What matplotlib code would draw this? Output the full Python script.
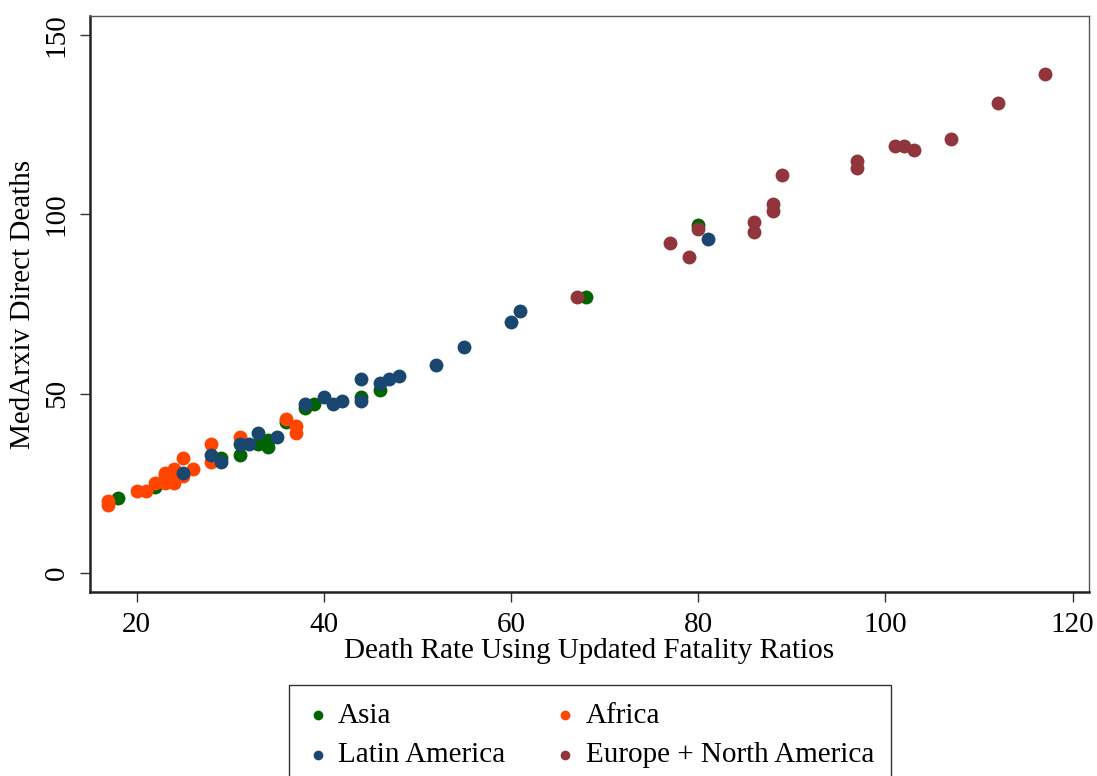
import matplotlib
matplotlib.use("Agg")
import matplotlib.pyplot as plt

plt.rcParams['font.family'] = ['Liberation Serif', 'DejaVu Serif']

# Data (x = Death Rate Using Updated Fatality Ratios, y = MedArxiv Direct Deaths)
asia_x = [18, 22, 29, 31, 33, 34, 34, 36, 38, 39, 44, 46, 68, 80]
asia_y = [21, 24, 32, 33, 36, 35, 37, 42, 46, 47, 49, 51, 77, 97]

africa_x = [17, 17, 20, 21, 22, 23, 23, 23, 24, 24, 24, 24, 25, 25, 26, 28, 28, 31, 36, 37, 37]
africa_y = [20, 19, 23, 23, 25, 25, 27, 28, 25, 26, 28, 29, 27, 32, 29, 36, 31, 38, 43, 41, 39]

latam_x = [25, 28, 29, 31, 32, 33, 35, 38, 40, 41, 42, 44, 44, 46, 47, 48, 52, 55, 60, 61, 81]
latam_y = [28, 33, 31, 36, 36, 39, 38, 47, 49, 47, 48, 54, 48, 53, 54, 55, 58, 63, 70, 73, 93]

eur_x = [67, 77, 79, 80, 86, 86, 88, 88, 89, 97, 97, 101, 102, 103, 107, 112, 117]
eur_y = [77, 92, 88, 96, 98, 95, 103, 101, 111, 115, 113, 119, 119, 118, 121, 131, 139]

series_labels = ["Asia", "Africa", "Latin America", "Europe + North America"]
series_colors = ["#006400", "#ff4500", "#1a476f", "#90353b"]
series_x = [asia_x, africa_x, latam_x, eur_x]
series_y = [asia_y, africa_y, latam_y, eur_y]

x_ticks = [20, 40, 60, 80, 100, 120]
y_ticks = [0, 50, 100, 150]

fig = plt.figure(figsize=(10.97, 7.76), dpi=100)
ax = fig.add_axes([90/1097, 1-592/776, (1089-90)/1097, (592-16)/776])

handles = []
for xs, ys, c, lab in zip(series_x, series_y, series_colors, series_labels):
    h = ax.scatter(xs, ys, s=100, color=c, label=lab, linewidths=0, zorder=3)
    handles.append(h)

ax.set_xlim(15.03, 121.74)
ax.set_ylim(-5.3, 155.3)
ax.set_xticks(x_ticks)
ax.set_yticks(y_ticks)
ax.tick_params(axis='both', direction='out', length=7.5, width=1, colors='#333333',
               labelsize=21, labelcolor='black', pad=7)
for lbl in ax.get_yticklabels():
    lbl.set_rotation(90)
    lbl.set_va('center')

for side in ['left', 'bottom']:
    ax.spines[side].set_color('#222222')
    ax.spines[side].set_linewidth(1.8)
for side in ['top', 'right']:
    ax.spines[side].set_color('#555555')
    ax.spines[side].set_linewidth(1.0)

ax.set_xlabel("Death Rate Using Updated Fatality Ratios", fontsize=21, labelpad=0)
ax.set_ylabel("MedArxiv Direct Deaths", fontsize=21, labelpad=6)

# matplotlib fills legend columns first; reorder so rows read Asia/Africa, Latin/Europe
order = [0, 2, 1, 3]
leg = fig.legend(handles=[handles[i] for i in order],
                 labels=[series_labels[i] for i in order], ncol=2, loc='upper center',
                 bbox_to_anchor=(590/1097, 1-685/776), borderaxespad=0,
                 fontsize=21, frameon=True,
                 fancybox=False, edgecolor='black', markerscale=0.7,
                 handletextpad=0.3, columnspacing=1.65, handlelength=0.8,
                 borderpad=0.6, labelspacing=0.45)
leg.get_frame().set_linewidth(1.0)

fig.savefig("out.png", dpi=100)
